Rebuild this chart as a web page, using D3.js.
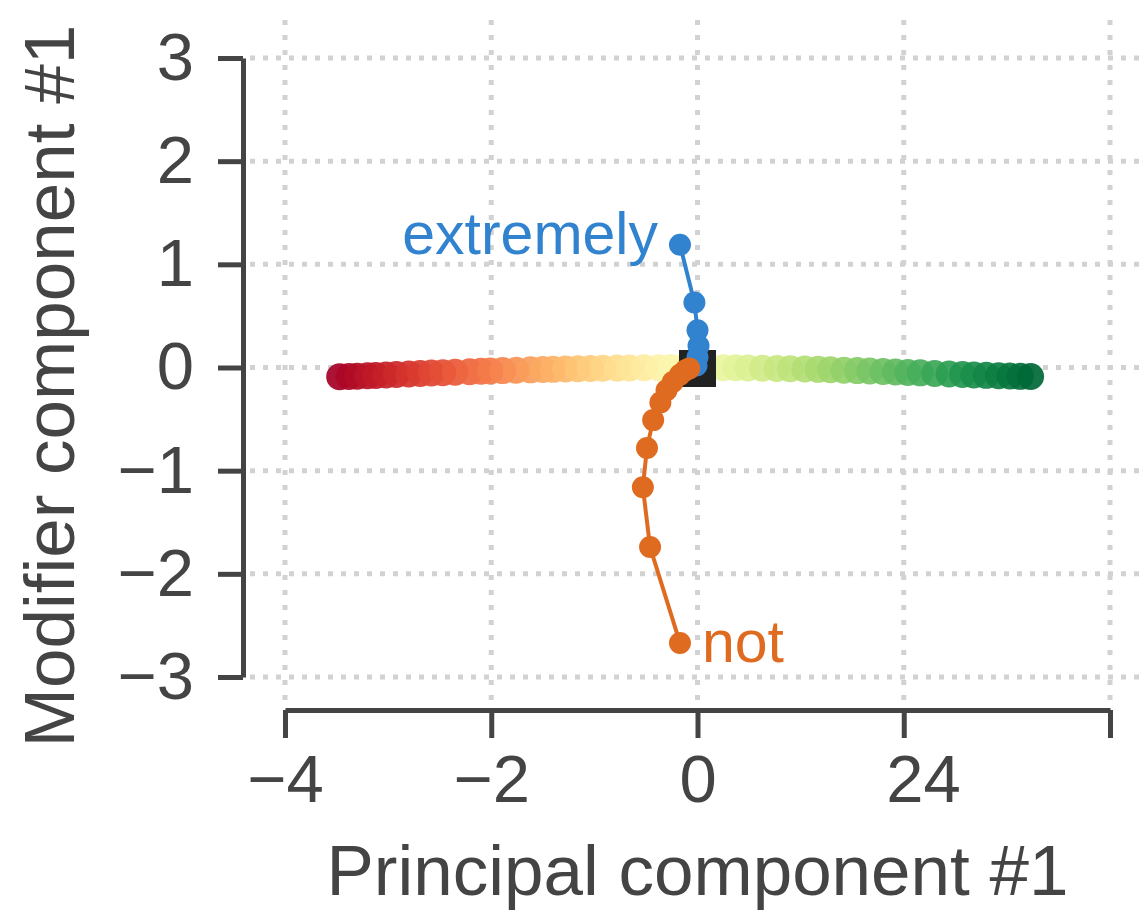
<!DOCTYPE html>
<html>
<head>
<meta charset="utf-8">
<script src="https://cdn.jsdelivr.net/npm/d3@7"></script>
<style>
  html, body { margin: 0; padding: 0; background: #fff; }
  svg { display: block; }
</style>
</head>
<body>
<div id="chart"></div>
<script>
const width = 1143;
const height = 913;

// Spectrum of sentiment words along principal component #1
const spectrumX = [-3.47, -3.38, -3.30, -3.20, -3.12, -3.02, -2.92, -2.80, -2.69, -2.58,
  -2.47, -2.35, -2.21, -2.10, -2.01, -1.89, -1.76, -1.62, -1.50, -1.40,
  -1.28, -1.16, -1.04, -0.92, -0.78, -0.66, -0.52, -0.38, -0.26, -0.14,
  0.00, 0.12, 0.25, 0.37, 0.49, 0.63, 0.77, 0.90, 1.04, 1.17,
  1.29, 1.42, 1.55, 1.67, 1.80, 1.92, 2.04, 2.16, 2.30, 2.44,
  2.57, 2.68, 2.80, 2.92, 3.03, 3.13, 3.23];
const spectrumY = [-0.090, -0.088, -0.085, -0.080, -0.077, -0.072, -0.068, -0.063, -0.058, -0.054,
  -0.050, -0.045, -0.041, -0.037, -0.034, -0.030, -0.027, -0.023, -0.020, -0.018,
  -0.015, -0.012, -0.010, -0.008, -0.006, -0.004, -0.003, -0.002, -0.001, 0.000,
  0.000, -0.001, -0.002, -0.003, -0.005, -0.007, -0.010, -0.012, -0.015, -0.018,
  -0.022, -0.026, -0.030, -0.034, -0.039, -0.043, -0.048, -0.052, -0.058, -0.063,
  -0.068, -0.072, -0.076, -0.080, -0.083, -0.086, -0.088];

// Modifier trajectories
const extremelyX = [-0.01, 0.00, 0.01, 0.00, -0.03, -0.17];
const extremelyY = [0.02, 0.10, 0.21, 0.36, 0.63, 1.19];
const notX = [-0.08, -0.12, -0.17, -0.24, -0.30, -0.36, -0.43, -0.49, -0.53, -0.46, -0.17];
const notY = [-0.01, -0.03, -0.07, -0.14, -0.22, -0.34, -0.51, -0.78, -1.16, -1.74, -2.67];

const xTicks = [-4, -2, 0, 2, 4];
const xTickLabels = ["\u22124", "\u22122", "0", "24", ""];
const yTicks = [-3, -2, -1, 0, 1, 2, 3];
const yTickLabels = ["\u22123", "\u22122", "\u22121", "0", "1", "2", "3"];

const textColor = "#444444";
const fontFamily = "'Liberation Sans', Arial, Helvetica, sans-serif";

const svg = d3.select("#chart")
  .append("svg")
  .attr("width", width)
  .attr("height", height)
  .style("background", "#fff");

const x = d3.scaleLinear().domain([-4, 4]).range([285, 1110]);
const y = d3.scaleLinear().domain([-3, 3]).range([677, 58]);

// grille pointillée
const grid = svg.append("g");
grid.selectAll(".hgrid")
  .data(yTicks)
  .enter()
  .append("line")
  .attr("x1", 250).attr("x2", width)
  .attr("y1", d => y(d)).attr("y2", d => y(d))
  .attr("stroke", "#d2d2d2")
  .attr("stroke-width", 5)
  .attr("stroke-dasharray", "5,8");
grid.selectAll(".vgrid")
  .data(xTicks)
  .enter()
  .append("line")
  .attr("x1", d => x(d)).attr("x2", d => x(d))
  .attr("y1", 20).attr("y2", 702)
  .attr("stroke", "#d2d2d2")
  .attr("stroke-width", 5)
  .attr("stroke-dasharray", "5,10");

// axes
const yAxis = d3.axisLeft(y)
  .tickValues(yTicks)
  .tickFormat((d, i) => yTickLabels[i])
  .tickSize(25)
  .tickSizeOuter(0)
  .tickPadding(24);
const xAxis = d3.axisBottom(x)
  .tickValues(xTicks)
  .tickFormat((d, i) => xTickLabels[i])
  .tickSize(28)
  .tickSizeOuter(0)
  .tickPadding(16);

const gy = svg.append("g").attr("transform", "translate(243,0)").call(yAxis);
const gx = svg.append("g").attr("transform", "translate(0,710)").call(xAxis);

[gx, gy].forEach(g => {
  g.select(".domain").attr("stroke", textColor).attr("stroke-width", 5);
  g.selectAll(".tick line").attr("stroke", textColor).attr("stroke-width", 5);
  g.selectAll(".tick text")
    .attr("fill", textColor)
    .style("font-family", fontFamily)
    .style("font-size", "67px");
});
// le label "24" est décalé comme dans l'original
gx.selectAll(".tick text")
  .filter(function() { return this.textContent.length === 2 && this.textContent[0] !== "\u2212"; })
  .attr("text-anchor", "start")
  .attr("x", -18);

// axis titles
svg.append("text")
  .attr("x", x(0))
  .attr("y", 895)
  .attr("text-anchor", "middle")
  .style("font-family", fontFamily)
  .style("font-size", "71px")
  .attr("fill", textColor)
  .text("Principal component #1");

svg.append("text")
  .attr("transform", "translate(74,386) rotate(-90)")
  .attr("text-anchor", "middle")
  .style("font-family", fontFamily)
  .style("font-size", "71px")
  .attr("fill", textColor)
  .text("Modifier component #1");

// spectre coloré
const color = d3.scaleSequential(d3.interpolateRdYlGn).domain(d3.extent(spectrumX));
svg.append("g")
  .selectAll("circle")
  .data(spectrumX.map((d, i) => ({ x: d, y: spectrumY[i] })))
  .enter()
  .append("circle")
  .attr("cx", d => x(d.x))
  .attr("cy", d => y(d.y))
  .attr("r", 13.5)
  .attr("fill", d => color(d.x))
  .attr("fill-opacity", 0.92);

// origine
svg.append("rect")
  .attr("x", x(0) - 18.5)
  .attr("y", y(0) - 17.5)
  .attr("width", 37)
  .attr("height", 37)
  .attr("fill", "#222222");

const series = [
  { name: "extremely", xs: extremelyX, ys: extremelyY, color: "#3283cf", dx: -22, dy: 9, anchor: "end" },
  { name: "not", xs: notX, ys: notY, color: "#df6b21", dx: 22, dy: 19, anchor: "start" }
];

const line = d3.line().x(d => x(d[0])).y(d => y(d[1]));

series.forEach(s => {
  const pts = s.xs.map((d, i) => [d, s.ys[i]]);
  const g = svg.append("g");
  g.append("path")
    .attr("d", line(pts))
    .attr("fill", "none")
    .attr("stroke", s.color)
    .attr("stroke-width", 4);
  g.selectAll("circle")
    .data(pts)
    .enter()
    .append("circle")
    .attr("cx", d => x(d[0]))
    .attr("cy", d => y(d[1]))
    .attr("r", 11)
    .attr("fill", s.color);
  const last = pts[pts.length - 1];
  g.append("text")
    .attr("x", x(last[0]) + s.dx)
    .attr("y", y(last[1]) + s.dy)
    .attr("text-anchor", s.anchor)
    .style("font-family", fontFamily)
    .style("font-size", "59px")
    .attr("fill", s.color)
    .text(s.name);
});
</script>
</body>
</html>
